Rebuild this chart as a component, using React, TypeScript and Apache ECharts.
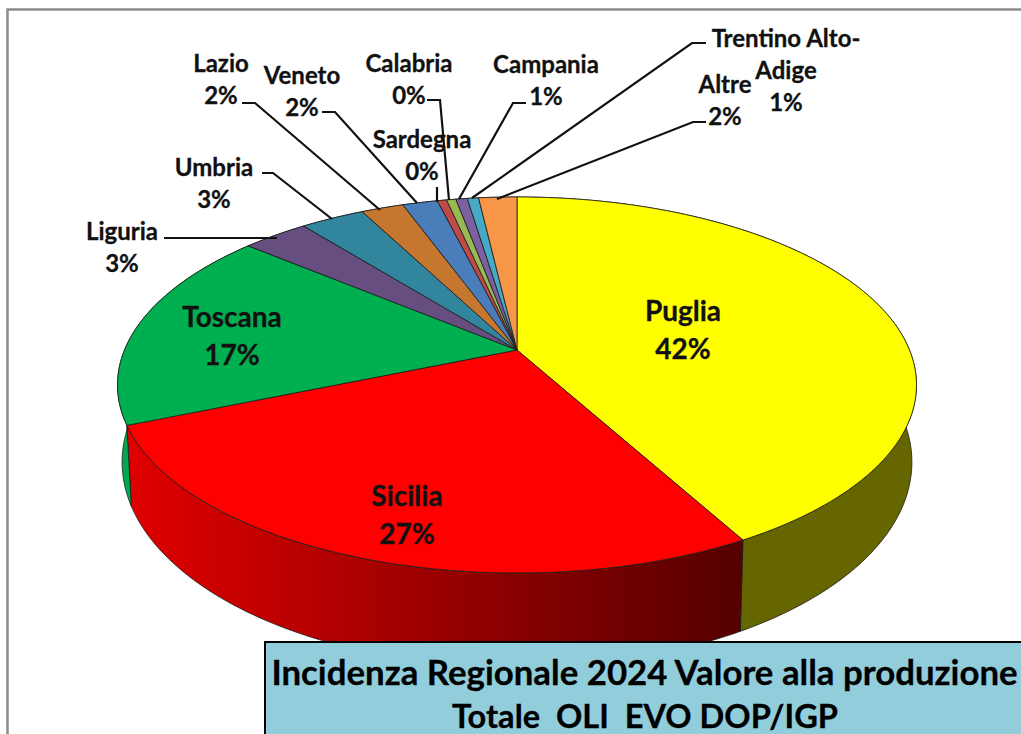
import React, { useEffect, useRef } from "react";
import * as echarts from "echarts";

const regions = ["Puglia", "Sicilia", "Toscana", "Liguria", "Umbria", "Lazio", "Veneto", "Sardegna", "Calabria", "Campania", "Trentino Alto-\nAdige", "Altre"];
const shares = [42.0, 26.7, 17.4, 3.2, 3.1, 2.05, 1.7, 0.45, 0.45, 0.55, 0.55, 1.85];
const topColors = ["#FFFF00", "#FF0000", "#00B050", "#664F80", "#31859C", "#C6772F", "#4A7EBB", "#BE4B48", "#98B954", "#7D60A0", "#46AAC5", "#F79646"];
const sideColors = ["#666600", "#A00000", "#00A84F", "#403050", "#1F5566", "#7F4C1E", "#2F5077", "#7A302E", "#617736", "#503D66", "#2D6D7E", "#9E602D"];
const labelCenters: number[][] = [[683, 329], [407, 514], [232, 335], [122, 246], [214, 182], [221, 78], [302, 90], [422, 154], [409, 78], [546, 79], [786, 69], [725, 99]];
const leaderLines: number[][][] = [
  [], [], [],
  [[164, 238], [277, 238]],
  [[262, 173], [273, 173], [332, 219]],
  [[242, 103], [255, 103], [380, 210]],
  [[322, 112], [335, 112], [417, 203]],
  [[437, 187], [437, 202]],
  [[427, 100], [440, 100], [449, 200]],
  [[526, 103], [513, 103], [459, 199]],
  [[706, 43], [692, 43], [472, 198]],
  [[706, 122], [693, 122], [497, 199]],
];
const titleLine1 = "Incidenza Regionale 2024 Valore alla produzione";
const titleLine2 = "Totale  OLI  EVO DOP/IGP";

const FONT = "Lato, sans-serif";
const K = -0.186;
const CX = 517;
const upper = { cy: 350, a: 392.5, b: 181.5 };
const lower = { cy: 424, a: 388, b: 198 };
const total = shares.reduce((s, v) => s + v, 0);

function project(t: number, f: { cy: number; a: number; b: number }) {
  const u = Math.sin(t);
  const v = -Math.cos(t);
  const w = 1 + K * v;
  return [CX + (f.a * u) / w, f.cy + (f.b * v) / w];
}
function arc(t0: number, t1: number, f: { cy: number; a: number; b: number }) {
  const n = Math.max(2, Math.ceil(Math.abs(t1 - t0) / 0.01));
  const pts: number[][] = [];
  for (let i = 0; i <= n; i++) pts.push(project(t0 + ((t1 - t0) * i) / n, f));
  return pts;
}
function startAngle(index: number) {
  let c = 0;
  for (let i = 0; i < index; i++) c += shares[i];
  return (c / total) * Math.PI * 2;
}

export default function App() {
  const ref = useRef<HTMLDivElement>(null);
  useEffect(() => {
    document.body.style.margin = "0";
    const chart = echarts.init(ref.current!, null, { renderer: "svg" });
    const seriesData = regions.map((name, i) => ({ name, value: [shares[i], i] }));
    chart.setOption({
      animation: false,
      backgroundColor: "#FFFFFF",
      series: [
        {
          type: "custom",
          coordinateSystem: "none",
          silent: true,
          z: 1,
          data: seriesData,
          renderItem: (params: any, api: any) => {
            const i = params.dataIndex;
            const t0 = startAngle(i);
            const t1 = t0 + (api.value(0) / total) * Math.PI * 2;
            const points = [...arc(t0, t1, upper), ...arc(t1, t0, lower)];
            const fill =
              i === 1
                ? { type: "linear", x: 130, y: 0, x2: 737, y2: 0, global: true, colorStops: [{ offset: 0, color: "#E00000" }, { offset: 1, color: "#560000" }] }
                : sideColors[i];
            return { type: "polygon", shape: { points }, style: { fill, stroke: "#1a1a1a", lineWidth: 0.8 } };
          },
        },
        {
          type: "custom",
          coordinateSystem: "none",
          silent: true,
          z: 2,
          data: seriesData,
          renderItem: (params: any, api: any) => {
            const i = params.dataIndex;
            const t0 = startAngle(i);
            const t1 = t0 + (api.value(0) / total) * Math.PI * 2;
            const points = [[CX, upper.cy], ...arc(t0, t1, upper)];
            return { type: "polygon", shape: { points }, style: { fill: topColors[i], stroke: "#1a1a1a", lineWidth: 0.8 } };
          },
        },
        {
          type: "custom",
          coordinateSystem: "none",
          silent: true,
          z: 3,
          data: seriesData,
          renderItem: (params: any, api: any) => {
            const i = params.dataIndex;
            const big = i < 3;
            const pct = Math.round(api.value(0));
            const children: any[] = [];
            if (leaderLines[i].length) {
              children.push({ type: "polyline", shape: { points: leaderLines[i] }, style: { fill: "none", stroke: "#111111", lineWidth: 2.2 } });
            }
            children.push({
              type: "text",
              style: {
                text: `${regions[i]}\n${pct}%`,
                x: labelCenters[i][0],
                y: labelCenters[i][1],
                align: "center",
                verticalAlign: "middle",
                fill: "#111111",
                stroke: "#111111",
                lineWidth: 0.3,
                font: `bold ${big ? 28 : 24}px ${FONT}`,
                lineHeight: big ? 38 : 32,
              },
            });
            return { type: "group", children };
          },
        },
      ],
      graphic: [
        { type: "rect", z: 50, shape: { x: 7.5, y: 9.5, width: 1030, height: 740 }, style: { fill: "none", stroke: "#8c8c8c", lineWidth: 2.5 } },
        { type: "rect", z: 60, shape: { x: 265, y: 642, width: 780, height: 110 }, style: { fill: "#92CDDC", stroke: "#000000", lineWidth: 2 } },
        {
          type: "text",
          z: 61,
          style: { text: titleLine1, x: 644.5, y: 671, align: "center", verticalAlign: "middle", fill: "#000000", stroke: "#000000", lineWidth: 0.3, font: `bold 34.8px ${FONT}` },
        },
        {
          type: "text",
          z: 61,
          style: { text: titleLine2, x: 645, y: 715, align: "center", verticalAlign: "middle", fill: "#000000", stroke: "#000000", lineWidth: 0.3, font: `bold 32.6px ${FONT}` },
        },
      ],
    });
    return () => chart.dispose();
  }, []);
  return <div ref={ref} style={{ width: 1021, height: 734 }} />;
}
